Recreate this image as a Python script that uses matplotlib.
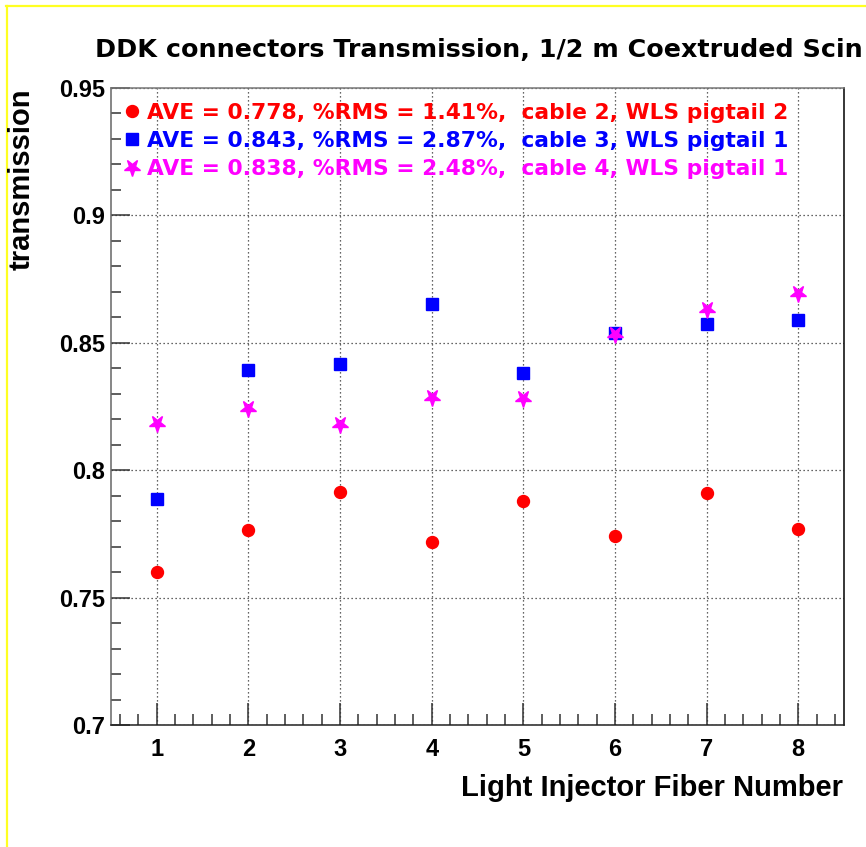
import matplotlib
matplotlib.use("Agg")
import matplotlib.pyplot as plt
from matplotlib.markers import MarkerStyle
from matplotlib.transforms import Affine2D
from matplotlib.ticker import MultipleLocator, FixedLocator
from matplotlib.lines import Line2D

plt.rcParams['font.family'] = ['Liberation Sans', 'DejaVu Sans']
plt.rcParams['font.weight'] = 'bold'

# ---- data ----
fiber = [1, 2, 3, 4, 5, 6, 7, 8]
cable2 = [0.760, 0.7765, 0.7914, 0.772, 0.788, 0.774, 0.791, 0.777]
cable3 = [0.7887, 0.8393, 0.8417, 0.8652, 0.838, 0.8537, 0.8574, 0.8591]
cable4 = [0.8184, 0.8243, 0.8181, 0.8288, 0.8284, 0.8533, 0.8633, 0.8694]
labels = ["AVE = 0.778, %RMS = 1.41%,  cable 2, WLS pigtail 2",
          "AVE = 0.843, %RMS = 2.87%,  cable 3, WLS pigtail 1",
          "AVE = 0.838, %RMS = 2.48%,  cable 4, WLS pigtail 1"]
title = "DDK connectors Transmission, 1/2 m Coextruded Scin"
xlabel = "Light Injector Fiber Number"
ylabel = "transmission"
xticks = [1, 2, 3, 4, 5, 6, 7, 8]
yticks = [0.7, 0.75, 0.8, 0.85, 0.9, 0.95]
ytick_labels = ["0.7", "0.75", "0.8", "0.85", "0.9", "0.95"]

W, H = 866, 847
fig = plt.figure(figsize=(W / 100, H / 100), dpi=100)
fig.patch.set_facecolor('white')

L, R, T, B = 111, 844, 88, 725
ax = fig.add_axes([L / W, 1 - B / H, (R - L) / W, (B - T) / H])

star_down = MarkerStyle('*', transform=Affine2D().rotate_deg(180))

h1, = ax.plot(fiber, cable2, linestyle='none', marker='o', ms=8.6,
              mfc='#ff0000', mec='#ff0000', color='#ff0000')
h2, = ax.plot(fiber, cable3, linestyle='none', marker='s', ms=9.2,
              mfc='#0000ff', mec='#0000ff', color='#0000ff')
h3, = ax.plot(fiber, cable4, linestyle='none', marker=star_down, ms=12.5,
              mfc='#ff00ff', mec='#ff00ff', color='#ff00ff')

ax.set_xlim(0.5, 8.5)
ax.set_ylim(0.7, 0.95)

ax.xaxis.set_major_locator(FixedLocator(xticks))
ax.xaxis.set_minor_locator(MultipleLocator(0.2))
ax.yaxis.set_major_locator(FixedLocator(yticks))
ax.yaxis.set_minor_locator(MultipleLocator(0.01))
ax.set_yticklabels(ytick_labels)
ax.set_xticklabels([str(v) for v in xticks])

ax.tick_params(which='both', direction='in', top=False, right=False,
               color='#333333', width=1.1)
ax.tick_params(axis='y', which='major', length=14, pad=4.5, labelsize=17)
ax.tick_params(axis='y', which='minor', length=7.2)
ax.tick_params(axis='x', which='major', length=15.5, pad=9, labelsize=17)
ax.tick_params(axis='x', which='minor', length=8)

ax.grid(True, which='major', linestyle=(0, (1, 2.2)), color='#333333',
        linewidth=0.9)
ax.set_axisbelow(True)

ax.spines['left'].set_color('#666666')
ax.spines['top'].set_color('#777777')
ax.spines['right'].set_color('black')
ax.spines['bottom'].set_color('#222222')
for s in ax.spines.values():
    s.set_linewidth(1.1)

leg = ax.legend([h1, h2, h3], labels, loc='upper left',
                bbox_to_anchor=((125 - L) / (R - L), (B - 103) / (B - T)),
                frameon=False, borderpad=0, borderaxespad=0,
                handlelength=0.66, handletextpad=0.33, labelspacing=0.36,
                numpoints=1, labelcolor='markerfacecolor',
                prop={'family': 'DejaVu Sans', 'weight': 'bold', 'size': 15.7})

fig.text(95 / W, 1 - 57 / H, title, fontsize=18.3, fontweight='bold',
         family='DejaVu Sans', ha='left', va='baseline', color='black')
fig.text(843 / W, 1 - 788 / H, xlabel, fontsize=21, fontweight='bold',
         ha='right', va='center', color='black')
fig.text(22 / W, 1 - T / H, ylabel, fontsize=21, fontweight='bold',
         rotation=90, ha='center', va='top', color='black')

# yellow canvas border (top and left)
fig.add_artist(Line2D([6 / W, 1.0], [1 - 6 / H, 1 - 6 / H],
                      transform=fig.transFigure, color='#ffff22', lw=1.6))
fig.add_artist(Line2D([6.5 / W, 6.5 / W], [0, 1 - 6 / H],
                      transform=fig.transFigure, color='#ffff22', lw=1.6))

fig.savefig('out.png', dpi=100)
